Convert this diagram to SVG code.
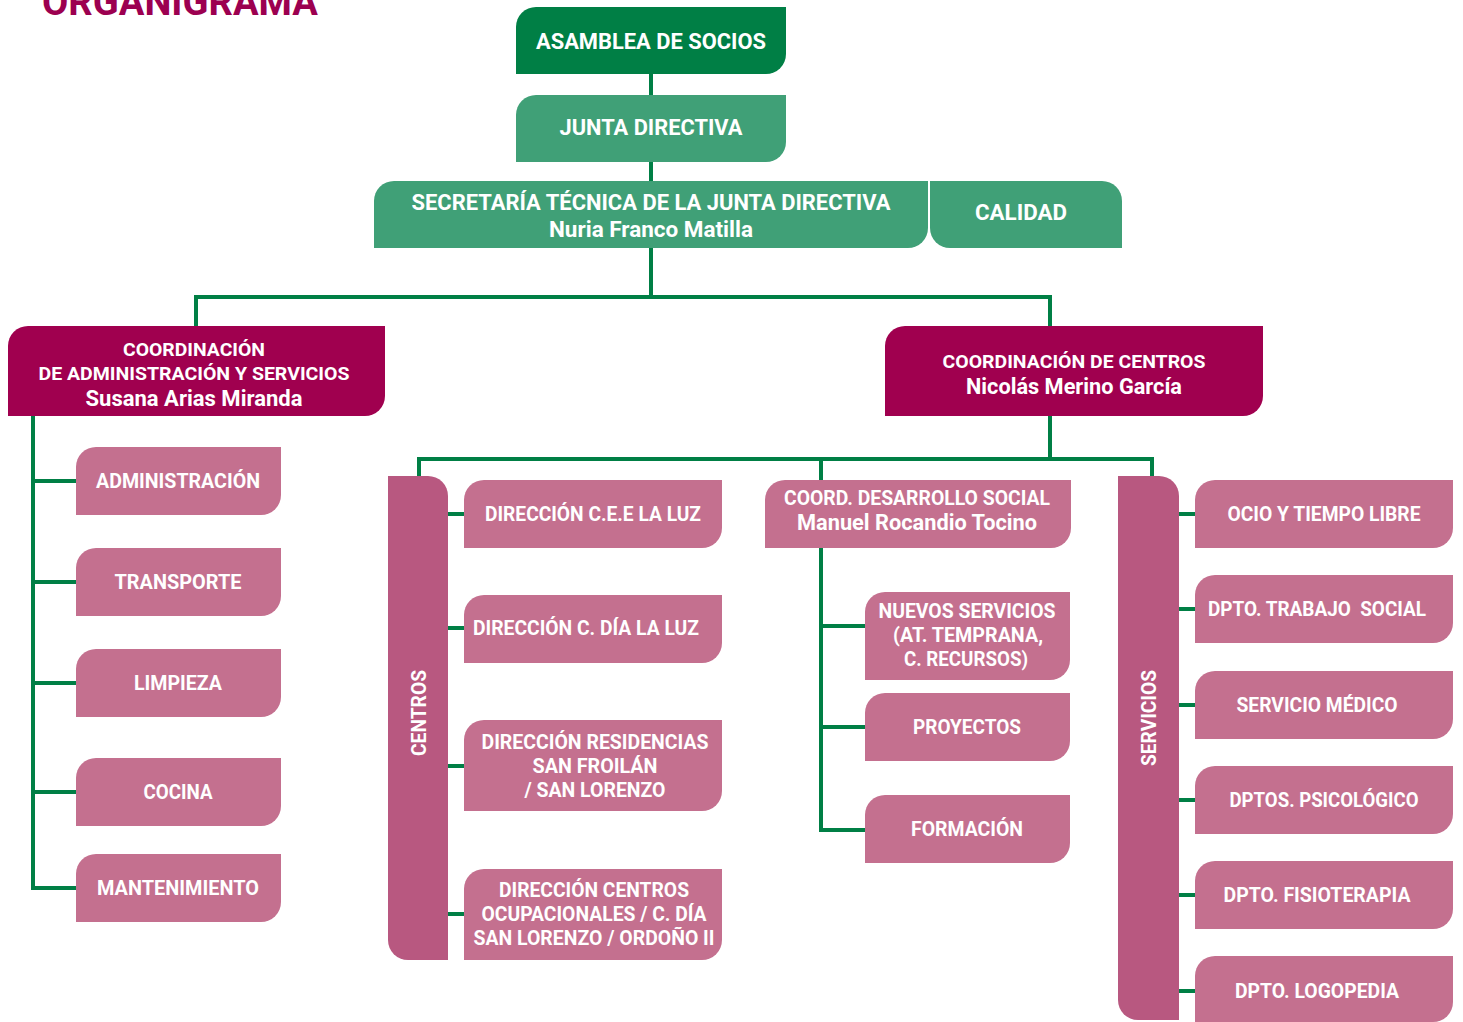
<svg xmlns="http://www.w3.org/2000/svg" width="1463" height="1022" viewBox="0 0 1463 1022">
<style>
.t{font-family:Roboto,"Liberation Sans",sans-serif;font-weight:700;fill:#fff;text-anchor:middle}
.b{font-size:22px}
.m{font-size:20px}
.s{font-size:19px}
.dg{fill:#007F45}
.mg{fill:#40A077}
.dm{fill:#A0004F}
.lp{fill:#C4708F}
.bar{fill:#B85880}
.c{fill:none;stroke:#007F45;stroke-width:4}
</style>
<rect width="1463" height="1022" fill="#fff"/>
<text x="180" y="15" font-family="Roboto,'Liberation Sans',sans-serif" font-weight="700" font-size="38" fill="#9C0050" text-anchor="middle" textLength="276" lengthAdjust="spacingAndGlyphs">ORGANIGRAMA</text>
<g id="connectors" class="c">
<path d="M651,74V95M651,162V181M651,248V297"/>
<path d="M196,326V297H1050V326"/>
<path d="M33,416V888H76M33,481H76M33,582H76M33,683H76M33,792H76"/>
<path d="M1050,416V459"/>
<path d="M419,476V459H1152V476M821,459V480"/>
<path d="M821,548V830H865M821,626H865M821,727H865"/>
<path d="M448,514H464M448,628H464M448,766H464M448,914H464"/>
<path d="M1179,514H1195M1179,609H1195M1179,705H1195M1179,800H1195M1179,895H1195M1179,991H1195"/>
</g>
<g id="asamblea"><path class="dg" d="M536,7H786V54A20,20 0 0 1 766,74H516V27A20,20 0 0 1 536,7Z"/><text class="t b" x="651" y="49" textLength="230" lengthAdjust="spacingAndGlyphs">ASAMBLEA DE SOCIOS</text></g>
<g id="junta"><path class="mg" d="M536,95H786V142A20,20 0 0 1 766,162H516V115A20,20 0 0 1 536,95Z"/><text class="t b" x="651" y="135" textLength="183" lengthAdjust="spacingAndGlyphs">JUNTA DIRECTIVA</text></g>
<g id="secretaria"><path class="mg" d="M394,181H928V228A20,20 0 0 1 908,248H374V201A20,20 0 0 1 394,181Z"/><text class="t b" x="651" y="210" textLength="479" lengthAdjust="spacingAndGlyphs">SECRETARÍA TÉCNICA DE LA JUNTA DIRECTIVA</text><text class="t b" x="651" y="237" textLength="204" lengthAdjust="spacingAndGlyphs">Nuria Franco Matilla</text></g>
<g id="calidad"><path class="mg" d="M930,181H1102A20,20 0 0 1 1122,201V248H950A20,20 0 0 1 930,228Z"/><text class="t b" x="1021" y="220" textLength="92" lengthAdjust="spacingAndGlyphs">CALIDAD</text></g>
<g id="coord-admin"><path class="dm" d="M28,326H385V396A20,20 0 0 1 365,416H8V346A20,20 0 0 1 28,326Z"/><text class="t s" x="194" y="356" textLength="142" lengthAdjust="spacingAndGlyphs">COORDINACIÓN</text><text class="t s" x="194" y="380" textLength="311" lengthAdjust="spacingAndGlyphs">DE ADMINISTRACIÓN Y SERVICIOS</text><text class="t b" x="194" y="406" textLength="217" lengthAdjust="spacingAndGlyphs">Susana Arias Miranda</text></g>
<g id="coord-centros"><path class="dm" d="M905,326H1263V396A20,20 0 0 1 1243,416H885V346A20,20 0 0 1 905,326Z"/><text class="t s" x="1074" y="368" textLength="263" lengthAdjust="spacingAndGlyphs">COORDINACIÓN DE CENTROS</text><text class="t b" x="1074" y="394" textLength="216" lengthAdjust="spacingAndGlyphs">Nicolás Merino García</text></g>
<g id="administracion"><path class="lp" d="M96,447H281V495A20,20 0 0 1 261,515H76V467A20,20 0 0 1 96,447Z"/><text class="t m" x="178" y="488" textLength="164" lengthAdjust="spacingAndGlyphs">ADMINISTRACIÓN</text></g>
<g id="transporte"><path class="lp" d="M96,548H281V596A20,20 0 0 1 261,616H76V568A20,20 0 0 1 96,548Z"/><text class="t m" x="178" y="589" textLength="127" lengthAdjust="spacingAndGlyphs">TRANSPORTE</text></g>
<g id="limpieza"><path class="lp" d="M96,649H281V697A20,20 0 0 1 261,717H76V669A20,20 0 0 1 96,649Z"/><text class="t m" x="178" y="690" textLength="88" lengthAdjust="spacingAndGlyphs">LIMPIEZA</text></g>
<g id="cocina"><path class="lp" d="M96,758H281V806A20,20 0 0 1 261,826H76V778A20,20 0 0 1 96,758Z"/><text class="t m" x="178" y="799" textLength="69" lengthAdjust="spacingAndGlyphs">COCINA</text></g>
<g id="mantenimiento"><path class="lp" d="M96,854H281V902A20,20 0 0 1 261,922H76V874A20,20 0 0 1 96,854Z"/><text class="t m" x="178" y="895" textLength="162" lengthAdjust="spacingAndGlyphs">MANTENIMIENTO</text></g>
<g id="centros"><path class="bar" d="M388,476H428A20,20 0 0 1 448,496V960H408A20,20 0 0 1 388,940Z"/><text class="t m" x="0" y="0" transform="translate(426,713) rotate(-90)" textLength="86" lengthAdjust="spacingAndGlyphs">CENTROS</text></g>
<g id="dir-cee"><path class="lp" d="M484,480H722V528A20,20 0 0 1 702,548H464V500A20,20 0 0 1 484,480Z"/><text class="t m" x="593" y="521" textLength="216" lengthAdjust="spacingAndGlyphs">DIRECCIÓN C.E.E LA LUZ</text></g>
<g id="dir-cdia"><path class="lp" d="M484,595H722V643A20,20 0 0 1 702,663H464V615A20,20 0 0 1 484,595Z"/><text class="t m" x="586" y="635" textLength="226" lengthAdjust="spacingAndGlyphs">DIRECCIÓN C. DÍA LA LUZ</text></g>
<g id="dir-residencias"><path class="lp" d="M484,720H722V791A20,20 0 0 1 702,811H464V740A20,20 0 0 1 484,720Z"/><text class="t m" x="595" y="749" textLength="227" lengthAdjust="spacingAndGlyphs">DIRECCIÓN RESIDENCIAS</text><text class="t m" x="595" y="773" textLength="125" lengthAdjust="spacingAndGlyphs">SAN FROILÁN</text><text class="t m" x="595" y="797" textLength="141" lengthAdjust="spacingAndGlyphs">/ SAN LORENZO</text></g>
<g id="dir-ocupacionales"><path class="lp" d="M484,869H722V940A20,20 0 0 1 702,960H464V889A20,20 0 0 1 484,869Z"/><text class="t m" x="594" y="897" textLength="190" lengthAdjust="spacingAndGlyphs">DIRECCIÓN CENTROS</text><text class="t m" x="594" y="921" textLength="225" lengthAdjust="spacingAndGlyphs">OCUPACIONALES / C. DÍA</text><text class="t m" x="594" y="945" textLength="241" lengthAdjust="spacingAndGlyphs">SAN LORENZO / ORDOÑO II</text></g>
<g id="coord-desarrollo"><path class="lp" d="M785,480H1071V528A20,20 0 0 1 1051,548H765V500A20,20 0 0 1 785,480Z"/><text class="t m" x="917" y="505" textLength="266" lengthAdjust="spacingAndGlyphs">COORD. DESARROLLO SOCIAL</text><text class="t b" x="917" y="530" textLength="240" lengthAdjust="spacingAndGlyphs">Manuel Rocandio Tocino</text></g>
<g id="nuevos-servicios"><path class="lp" d="M885,592H1070V660A20,20 0 0 1 1050,680H865V612A20,20 0 0 1 885,592Z"/><text class="t m" x="967" y="618" textLength="177" lengthAdjust="spacingAndGlyphs">NUEVOS SERVICIOS</text><text class="t m" x="968" y="642" textLength="150" lengthAdjust="spacingAndGlyphs">(AT. TEMPRANA,</text><text class="t m" x="966" y="666" textLength="124" lengthAdjust="spacingAndGlyphs">C. RECURSOS)</text></g>
<g id="proyectos"><path class="lp" d="M885,693H1070V741A20,20 0 0 1 1050,761H865V713A20,20 0 0 1 885,693Z"/><text class="t m" x="967" y="734" textLength="108" lengthAdjust="spacingAndGlyphs">PROYECTOS</text></g>
<g id="formacion"><path class="lp" d="M885,795H1070V843A20,20 0 0 1 1050,863H865V815A20,20 0 0 1 885,795Z"/><text class="t m" x="967" y="836" textLength="112" lengthAdjust="spacingAndGlyphs">FORMACIÓN</text></g>
<g id="servicios"><path class="bar" d="M1118,476H1159A20,20 0 0 1 1179,496V1020H1138A20,20 0 0 1 1118,1000Z"/><text class="t m" x="0" y="0" transform="translate(1156,718) rotate(-90)" textLength="96" lengthAdjust="spacingAndGlyphs">SERVICIOS</text></g>
<g id="ocio"><path class="lp" d="M1215,480H1453V528A20,20 0 0 1 1433,548H1195V500A20,20 0 0 1 1215,480Z"/><text class="t m" x="1324" y="521" textLength="193" lengthAdjust="spacingAndGlyphs">OCIO Y TIEMPO LIBRE</text></g>
<g id="trabajo-social"><path class="lp" d="M1215,575H1453V623A20,20 0 0 1 1433,643H1195V595A20,20 0 0 1 1215,575Z"/><text class="t m" x="1317" y="616" textLength="218" lengthAdjust="spacingAndGlyphs" xml:space="preserve">DPTO. TRABAJO  SOCIAL</text></g>
<g id="servicio-medico"><path class="lp" d="M1215,671H1453V719A20,20 0 0 1 1433,739H1195V691A20,20 0 0 1 1215,671Z"/><text class="t m" x="1317" y="712" textLength="161" lengthAdjust="spacingAndGlyphs">SERVICIO MÉDICO</text></g>
<g id="psicologico"><path class="lp" d="M1215,766H1453V814A20,20 0 0 1 1433,834H1195V786A20,20 0 0 1 1215,766Z"/><text class="t m" x="1324" y="807" textLength="189" lengthAdjust="spacingAndGlyphs">DPTOS. PSICOLÓGICO</text></g>
<g id="fisioterapia"><path class="lp" d="M1215,861H1453V909A20,20 0 0 1 1433,929H1195V881A20,20 0 0 1 1215,861Z"/><text class="t m" x="1317" y="902" textLength="187" lengthAdjust="spacingAndGlyphs">DPTO. FISIOTERAPIA</text></g>
<g id="logopedia"><path class="lp" d="M1215,956H1453V1002A20,20 0 0 1 1433,1022H1195V976A20,20 0 0 1 1215,956Z"/><text class="t m" x="1317" y="998" textLength="164" lengthAdjust="spacingAndGlyphs">DPTO. LOGOPEDIA</text></g>
</svg>
